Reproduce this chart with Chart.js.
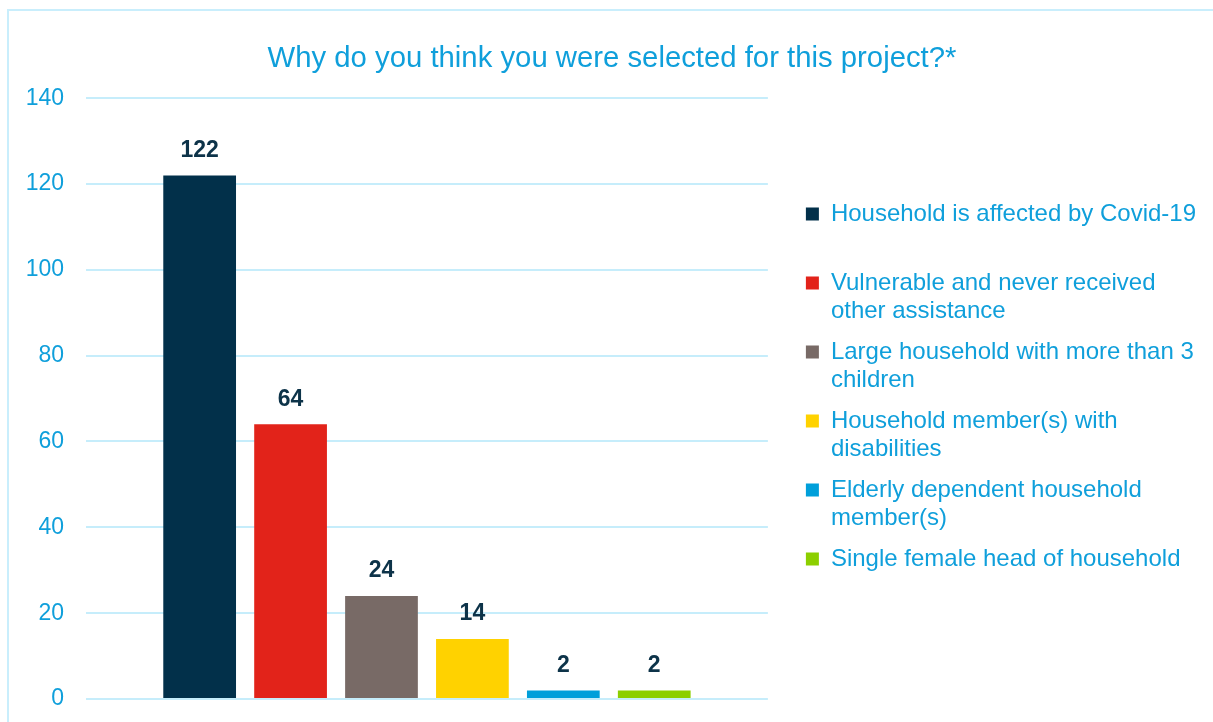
<!DOCTYPE html>
<html>
<head>
<meta charset="utf-8">
<script src="https://cdn.jsdelivr.net/npm/chart.js@4/dist/chart.umd.min.js"></script>
<style>
  html, body { margin: 0; padding: 0; background: #fff; overflow: hidden; }
  #frame { position: absolute; left: 7px; top: 9px; width: 1300px; height: 800px; border: 2px solid #c9eefc; }
  #reasonsChart { position: absolute; left: 0; top: 0; }
</style>
</head>
<body>
<div id="frame"></div>
<canvas id="reasonsChart" width="1213" height="722"></canvas>
<script>
// dane z wykresu
const reasons = [
    'Household is affected by Covid-19',
    'Vulnerable and never received other assistance',
    'Large household with more than 3 children',
    'Household member(s) with disabilities',
    'Elderly dependent household member(s)',
    'Single female head of household'
];
const counts = [122, 64, 24, 14, 2, 2];
const barColors = ['#02304a', '#e2231a', '#786a66', '#ffd200', '#009fda', '#8ccf00'];
const yMax = 140;
const yStep = 20;

const blue = '#0f9fdb';
const font = '"Liberation Sans", Arial, sans-serif';

// zawijanie tekstu legendy, zawsze 2 linie
function wrapLines(ctx, text, maxWidth) {
    ctx.save();
    ctx.font = '24px ' + font;
    const words = text.split(' ');
    const lines = [];
    let line = '';
    words.forEach(w => {
        const test = line ? line + ' ' + w : w;
        if (line && ctx.measureText(test).width > maxWidth) {
            lines.push(line);
            line = w;
        } else {
            line = test;
        }
    });
    lines.push(line);
    ctx.restore();
    while (lines.length < 2) lines.push('');
    return lines;
}

// etykiety wartosci nad slupkami
const valueLabels = {
    id: 'valueLabels',
    afterDatasetsDraw(chart) {
        const ctx = chart.ctx;
        ctx.save();
        ctx.font = 'bold 23px ' + font;
        ctx.fillStyle = '#0d3349';
        ctx.textAlign = 'center';
        ctx.textBaseline = 'middle';
        chart.data.datasets.forEach((ds, i) => {
            const bar = chart.getDatasetMeta(i).data[0];
            ctx.fillText(ds.data[0], bar.x, bar.y - 25);
        });
        ctx.restore();
    }
};

const datasets = reasons.map((r, i) => ({
    label: r,
    data: [counts[i]],
    backgroundColor: barColors[i],
    borderWidth: 0,
    barPercentage: 0.8,
    categoryPercentage: 0.8
}));

new Chart(document.getElementById('reasonsChart').getContext('2d'), {
    type: 'bar',
    data: { labels: [''], datasets: datasets },
    plugins: [valueLabels],
    options: {
        responsive: false,
        devicePixelRatio: 1,
        animation: false,
        layout: { padding: { left: 18, right: 7, top: 0, bottom: 23 } },
        scales: {
            x: { display: false },
            y: {
                min: 0,
                max: yMax,
                ticks: { stepSize: yStep, color: blue, padding: 22, font: { family: font, size: 23 } },
                grid: { color: '#c6edfb', lineWidth: 2, drawTicks: false },
                border: { display: false },
                afterFit(scale) {
                    scale.width = 68;
                    scale.paddingTop = 0;
                    scale.paddingBottom = 0;
                }
            },
            // pusta os, odstep miedzy wykresem a legenda
            gap: {
                position: 'right',
                display: true,
                grid: { display: false },
                border: { display: false },
                ticks: { display: false },
                afterFit(scale) { scale.width = 25; }
            }
        },
        plugins: {
            title: {
                display: true,
                text: 'Why do you think you were selected for this project?*',
                color: blue,
                font: { family: font, size: 29.3, weight: 'normal' },
                padding: { top: 41, bottom: 22 }
            },
            legend: {
                position: 'right',
                fullSize: false,
                maxWidth: 430,
                title: { display: true, text: ' ', font: { size: 6, lineHeight: 1 }, padding: 1 },
                labels: {
                    boxWidth: 13,
                    boxHeight: 13,
                    padding: 13,
                    color: blue,
                    font: { family: font, size: 24, lineHeight: '28px' },
                    generateLabels(chart) {
                        return chart.data.datasets.map((ds, i) => ({
                            text: wrapLines(chart.ctx, ds.label, 372),
                            fillStyle: ds.backgroundColor,
                            strokeStyle: ds.backgroundColor,
                            lineWidth: 0,
                            hidden: false,
                            fontColor: blue,
                            datasetIndex: i
                        }));
                    }
                }
            },
            tooltip: { enabled: false }
        }
    }
});
</script>
</body>
</html>
